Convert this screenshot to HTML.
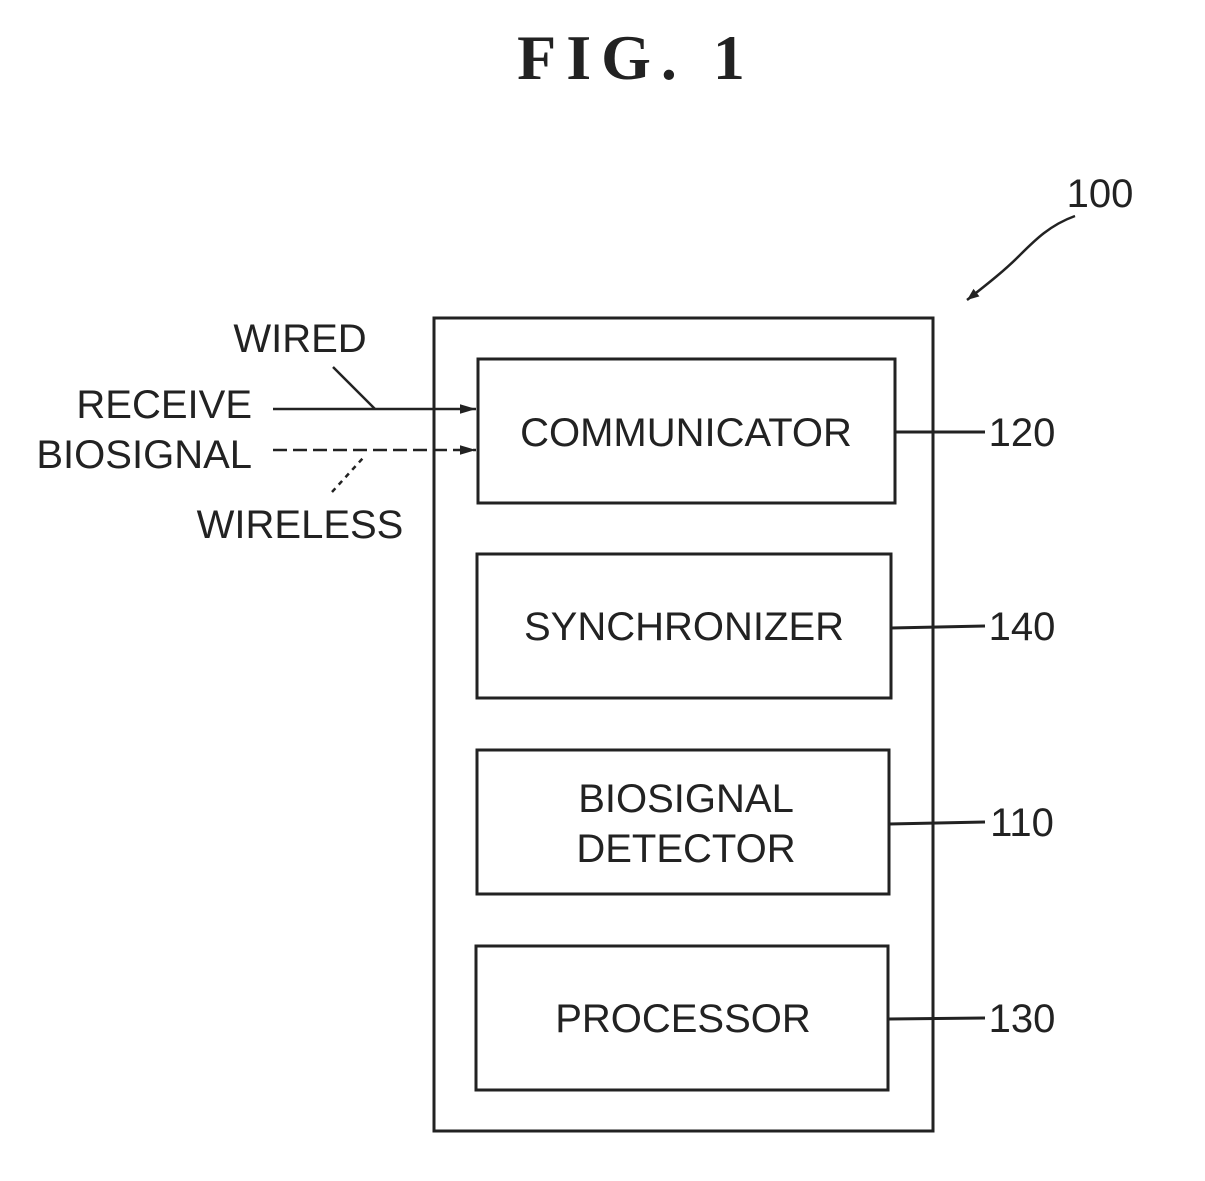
<!DOCTYPE html>
<html><head><meta charset="utf-8"><style>
html,body{margin:0;padding:0;background:#fff;}
svg{display:block}
.t{font-family:"Liberation Sans",sans-serif;font-size:40px;fill:#222;}
</style></head><body>
<svg width="1205" height="1181" viewBox="0 0 1205 1181" xmlns="http://www.w3.org/2000/svg">
<defs>
<marker id="a" viewBox="0 0 10 10" refX="10" refY="5" markerWidth="18" markerHeight="12" orient="auto" markerUnits="userSpaceOnUse">
<path d="M0,1 L10,5 L0,9 z" fill="#222"/></marker>
<marker id="b" viewBox="0 0 10 10" refX="10" refY="5" markerWidth="26" markerHeight="16" orient="auto" markerUnits="userSpaceOnUse">
<path d="M0,2 L10,5 L0,8 z" fill="#222"/></marker>
</defs>
<text x="636" y="79" text-anchor="middle" style="font-family:'Liberation Serif',serif;font-weight:bold;font-size:64px;fill:#222;letter-spacing:10px">FIG. 1</text>

<g fill="none" stroke="#222" stroke-width="3">
<rect x="434" y="318" width="499" height="813"/>
<rect x="478" y="359" width="417" height="144"/>
<rect x="477" y="554" width="414" height="144"/>
<rect x="477" y="750" width="412" height="144"/>
<rect x="476" y="946" width="412" height="144"/>
<line x1="895" y1="432" x2="985" y2="432"/>
<line x1="891" y1="628" x2="985" y2="626"/>
<line x1="889" y1="824" x2="985" y2="822"/>
<line x1="888" y1="1019" x2="985" y2="1018"/>
</g>
<g stroke="#222" stroke-width="2.5" fill="none">
<line x1="273" y1="409" x2="476" y2="409" marker-end="url(#b)"/>
<line x1="273" y1="450" x2="476" y2="450" stroke-dasharray="14,6" marker-end="url(#b)"/>
<line x1="333" y1="367" x2="375" y2="409"/>
<line x1="332" y1="492" x2="363" y2="458" stroke-dasharray="5,5"/>
<path d="M1075,216 C1050,225 1035,240 1020,255 C1005,270 990,282 967,300" marker-end="url(#a)"/>
</g>

<text class="t" x="300" y="352" text-anchor="middle">WIRED</text>
<text class="t" x="252" y="418" text-anchor="end">RECEIVE</text>
<text class="t" x="252" y="468" text-anchor="end">BIOSIGNAL</text>
<text class="t" x="300" y="538" text-anchor="middle">WIRELESS</text>
<text class="t" x="1100" y="207" text-anchor="middle">100</text>

<text class="t" x="686" y="446" text-anchor="middle">COMMUNICATOR</text>
<text class="t" x="684" y="640" text-anchor="middle">SYNCHRONIZER</text>
<text class="t" x="686" y="812" text-anchor="middle">BIOSIGNAL</text>
<text class="t" x="686" y="862" text-anchor="middle">DETECTOR</text>
<text class="t" x="683" y="1032" text-anchor="middle">PROCESSOR</text>

<text class="t" x="1022" y="446" text-anchor="middle">120</text>
<text class="t" x="1022" y="640" text-anchor="middle">140</text>
<text class="t" x="1022" y="836" text-anchor="middle">110</text>
<text class="t" x="1022" y="1032" text-anchor="middle">130</text>
</svg>
</body></html>
